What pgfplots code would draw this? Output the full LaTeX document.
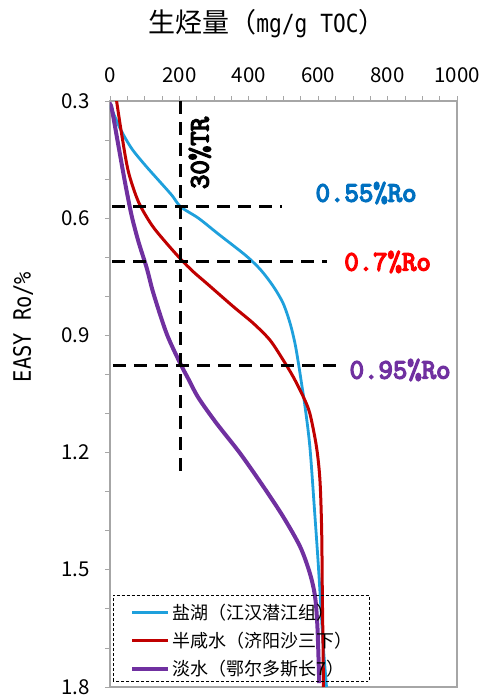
\documentclass[border=0pt]{standalone}
\usepackage{pgfplots}
\pgfplotsset{compat=1.18}
\usepackage{fontspec}
\setmainfont{Noto Sans CJK SC}
\newfontfamily\dmono{DejaVu Sans Mono}[FakeStretch=0.85]
\newfontfamily\cour{Latin Modern Mono}[FakeBold=5]
\definecolor{cblue}{RGB}{30,160,220}
\definecolor{cred}{RGB}{192,0,0}
\definecolor{cpurple}{RGB}{112,48,160}
\definecolor{tblue}{RGB}{0,112,192}
\definecolor{tred}{RGB}{255,0,0}
\definecolor{axgray}{RGB}{166,166,166}

\begin{document}
\begin{tikzpicture}
\useasboundingbox (-110bp,-11bp) rectangle (372bp,687bp);
\begin{axis}[
  scale only axis, width=347bp, height=586bp,
  xmin=0, xmax=1000, ymin=0.3, ymax=1.8, y dir=reverse,
  xtick={0,200,400,600,800,1000}, minor x tick num=3,
  ytick={0.3,0.6,0.9,1.2,1.5,1.8}, minor y tick num=2,
  xtick pos=right, xticklabel pos=right, ytick pos=left,
  tick align=outside,
  major tick length=5bp, minor tick length=5bp,
  axis line style={axgray, line width=1.2bp},
  every tick/.style={axgray, line width=0.8bp},
  every minor tick/.style={axgray, line width=0.8bp},
  tick label style={font=\fontsize{20.5bp}{24bp}\selectfont, text=black},
  /pgf/number format/assume math mode=true,
  /pgf/number format/1000 sep={},
  yticklabel style={/pgf/number format/fixed, /pgf/number format/precision=1, /pgf/number format/fixed zerofill},
  xticklabel style={yshift=10bp},
  yticklabel style={xshift=-12bp},
  legend style={draw=none, fill=none, at={(rel axis cs:0.009,0.01)}, anchor=south west,
    font=\fontsize{18bp}{21bp}\selectfont, row sep=7bp, inner xsep=17bp, inner ysep=2bp},
  legend cell align=left,
  legend image code/.code={\draw[#1] (0bp,0bp) -- (36bp,0bp);},
]
\addplot[cblue, line width=2.8bp, solid, smooth] coordinates {
(0,0.31) (29,0.370) (62,0.421) (101,0.464) (139,0.502) (178,0.541) (204,0.571)
(255,0.600) (313,0.641) (392,0.696) (435,0.733) (471,0.775) (499,0.818)
(519,0.869) (533,0.920) (543,0.971) (552,1.023) (562,1.082) (576,1.185)
(590,1.355) (600,1.483) (608,1.60) (615,1.70) (624,1.80)};
\addlegendentry{盐湖（江汉潜江组）}
\addplot[cred, line width=3bp, solid, smooth] coordinates {
(19,0.30) (34,0.387) (53,0.481) (82,0.558) (120,0.617) (159,0.660) (204,0.705)
(240,0.737) (279,0.767) (355,0.826) (413,0.869) (461,0.912) (499,0.963)
(528,1.006) (557,1.057) (576,1.10) (595,1.185) (605,1.27) (610,1.40)
(612,1.57) (614,1.70) (615,1.80)};
\addlegendentry{半咸水（济阳沙三下）}
\addplot[cpurple, line width=4bp, solid, smooth] coordinates {
(0,0.31) (5,0.319) (24,0.413) (43,0.507) (62,0.592) (82,0.660) (106,0.728)
(125,0.792) (163,0.895) (202,0.971) (225,1.01) (255,1.06) (307,1.125)
(375,1.202) (442,1.287) (499,1.364) (548,1.441) (576,1.509) (591,1.569)
(598,1.65) (603,1.79)};
\addlegendentry{淡水（鄂尔多斯长7）}

\addplot[black, line width=3bp, dash pattern=on 13bp off 8bp, forget plot] coordinates {(202,0.30) (202,1.25)};
\addplot[black, line width=3bp, dash pattern=on 13bp off 8bp, forget plot] coordinates {(6,0.569) (496,0.569)};
\addplot[black, line width=3bp, dash pattern=on 13bp off 8bp, forget plot] coordinates {(6,0.711) (625,0.711)};
\addplot[black, line width=3bp, dash pattern=on 13bp off 8bp, forget plot] coordinates {(8,0.978) (665,0.978)};

\node[tblue, font=\fontsize{28bp}{30bp}\selectfont\cour] at (axis cs:738,0.5355) {0.55\%Ro};
\node[tred, font=\fontsize{28bp}{30bp}\selectfont\cour] at (axis cs:800,0.712) {0.7\%Ro};
\node[cpurple, font=\fontsize{28bp}{30bp}\selectfont\cour] at (axis cs:836,0.9885) {0.95\%Ro};
\node[black, rotate=90, font=\fontsize{28bp}{30bp}\selectfont\cour] at (axis cs:259,0.433) {30\%TR};

\draw[black, densely dashed, line width=0.6bp] (rel axis cs:0.009,0.01) rectangle (rel axis cs:0.746,0.157);
\end{axis}
\node[font=\fontsize{27bp}{30bp}\selectfont] at (157bp,663bp) {生烃量（{\dmono\fontsize{25bp}{30bp}\selectfont mg/g TOC}）};
\node[rotate=90, font=\fontsize{24bp}{26bp}\selectfont\dmono] at (-87bp,360bp) {EASY Ro/\%};
\end{tikzpicture}
\end{document}
